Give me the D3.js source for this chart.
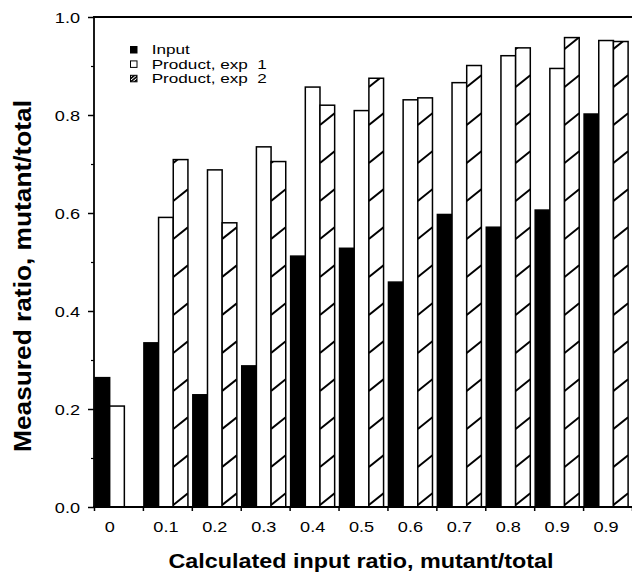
<!DOCTYPE html>
<html>
<head>
<meta charset="utf-8">
<script src="https://cdn.jsdelivr.net/npm/d3@7"></script>
<style>
  html, body { margin: 0; padding: 0; background: #fff; }
  svg { display: block; }
  text { font-family: "Liberation Sans", Arial, Helvetica, sans-serif; fill: #000; white-space: pre; }
</style>
</head>
<body>
<svg id="chart" width="632" height="574"></svg>
<script>
// ---- data ----
const categories = ["0", "0.1", "0.2", "0.3", "0.4", "0.5", "0.6", "0.7", "0.8", "0.9", "0.9"];
const inputValues = [0.264, 0.335, 0.229, 0.288, 0.512, 0.528, 0.459, 0.597, 0.571, 0.606, 0.802];
const exp1Values  = [0.206, 0.591, 0.688, 0.735, 0.857, 0.809, 0.831, 0.866, 0.921, 0.895, 0.952];
const exp2Values  = [null,  0.709, 0.580, 0.705, 0.820, 0.875, 0.835, 0.901, 0.937, 0.958, 0.950];
const seriesNames = ["Input", "Product, exp  1", "Product, exp  2"];
const yMajorTicks = [0, 0.2, 0.4, 0.6, 0.8, 1.0];
const yMinorTicks = [0.1, 0.3, 0.5, 0.7, 0.9];
const xTitle = "Calculated input ratio, mutant/total";
const yTitle = "Measured ratio, mutant/total";

// ---- layout ----
const svg = d3.select("#chart");
const pLeft = 94, pRight = 632, pTop = 17, pBottom = 507;
const SX = 1.17; // horizontal text stretch seen in the reference

const idx = d3.range(categories.length);
const x = d3.scaleBand().domain(idx).range([pLeft, pRight]).padding(0);
const xEdge = d3.scaleLinear().domain([0, categories.length]).range([pLeft, pRight]);
const y = d3.scaleLinear().domain([0, 1]).range([pBottom, pTop]);
const bw = x.bandwidth();
const barW = bw * 0.3;
const series = [inputValues, exp1Values, exp2Values];
const xs = d3.scaleBand().domain([0, 1, 2]).range([1, 1 + barW * 3]).padding(0);

const defs = svg.append("defs");
// small dense hatch for legend swatch
const lp = defs.append("pattern").attr("id", "legendHatch")
  .attr("patternUnits", "userSpaceOnUse").attr("width", 2.5).attr("height", 2.5)
  .attr("patternTransform", "rotate(-40)");
lp.append("rect").attr("width", 2.5).attr("height", 2.5).attr("fill", "#fff");
lp.append("rect").attr("width", 2.5).attr("height", 1.6).attr("fill", "#000");

// ---- bars ----
const bars = [];
idx.forEach(i => {
  series.forEach((vals, s) => {
    const v = vals[i];
    if (v == null) return;
    bars.push({ i, s, v });
  });
});

const g = svg.append("g");
bars.forEach((b, k) => {
  const bx = x(b.i) + xs(b.s);
  const by = y(b.v);
  const bh = y(0) - by;
  g.append("rect")
    .attr("x", bx).attr("y", by).attr("width", barW).attr("height", bh)
    .attr("fill", b.s === 0 ? "#000" : "#fff");
  if (b.s === 2) {
    const cid = "clip" + k;
    defs.append("clipPath").attr("id", cid)
      .append("rect").attr("x", bx).attr("y", by).attr("width", barW).attr("height", bh);
    const hg = g.append("g").attr("clip-path", `url(#${cid})`);
    const step = 38, rise = barW * 0.8;
    for (let yl = y(0) - 2; yl > by; yl -= step) {
      hg.append("line")
        .attr("x1", bx).attr("y1", yl)
        .attr("x2", bx + barW).attr("y2", yl - rise)
        .attr("stroke", "#000").attr("stroke-width", 2);
    }
  }
  g.append("rect")
    .attr("x", bx).attr("y", by).attr("width", barW).attr("height", bh)
    .attr("fill", "none").attr("stroke", "#000").attr("stroke-width", 1.5);
});

// ---- axes ----
const yAxis = svg.append("g").attr("transform", `translate(${pLeft},0)`)
  .call(d3.axisLeft(y).tickValues(yMajorTicks).tickSize(6).tickPadding(0)
    .tickFormat(d3.format(".1f")));
yAxis.select(".domain").remove();
yAxis.selectAll("line").attr("stroke-width", 1.5);
yAxis.selectAll("text")
  .attr("font-size", 15.5)
  .attr("x", -14 / SX)
  .attr("dy", "0.36em")
  .attr("transform", `scale(${SX},1)`);

const yMinor = svg.append("g").attr("transform", `translate(${pLeft},0)`)
  .call(d3.axisLeft(y).tickValues(yMinorTicks).tickSize(3).tickFormat(""));
yMinor.select(".domain").remove();
yMinor.selectAll("line").attr("stroke-width", 1.2);

const xTicks = svg.append("g").attr("transform", `translate(0,${pBottom})`)
  .call(d3.axisBottom(xEdge).tickValues(d3.range(0, categories.length + 1)).tickSize(4).tickFormat(""));
xTicks.select(".domain").remove();
xTicks.selectAll("line").attr("stroke-width", 1.5);

// frame lines
svg.append("line").attr("x1", pLeft).attr("x2", pLeft).attr("y1", pTop).attr("y2", pBottom)
  .attr("stroke", "#000").attr("stroke-width", 1.8);
svg.append("line").attr("x1", pLeft - 1).attr("x2", pRight).attr("y1", pBottom).attr("y2", pBottom)
  .attr("stroke", "#000").attr("stroke-width", 1.8);
svg.append("line").attr("x1", pLeft - 1).attr("x2", pRight).attr("y1", pTop).attr("y2", pTop)
  .attr("stroke", "#000").attr("stroke-width", 1.8);

// x category labels, centred on the drawn bars
idx.forEach(i => {
  const n = series.filter(v => v[i] != null).length;
  const cx = x(i) + xs(0) + n * barW / 2;
  svg.append("text")
    .attr("transform", `translate(${cx},531.5) scale(${SX},1)`)
    .attr("text-anchor", "middle").attr("font-size", 15.5)
    .text(categories[i]);
});

// titles
svg.append("text")
  .attr("transform", `translate(361,568)`)
  .attr("text-anchor", "middle").attr("font-size", 20).attr("font-weight", "bold")
  .attr("textLength", 385).attr("lengthAdjust", "spacingAndGlyphs")
  .text(xTitle);
svg.append("text")
  .attr("transform", `translate(31,276) rotate(-90)`)
  .attr("text-anchor", "middle").attr("font-size", 24).attr("font-weight", "bold")
  .attr("textLength", 352).attr("lengthAdjust", "spacingAndGlyphs")
  .text(yTitle);

// legend
const legend = svg.append("g").attr("transform", "translate(130,46)");
const fills = ["#000", "#fff", "url(#legendHatch)"];
seriesNames.forEach((name, s) => {
  const row = legend.append("g").attr("transform", `translate(0,${s * 14.4})`);
  row.append("rect").attr("x", 0.5).attr("y", 0.5).attr("width", 6.5).attr("height", 6.5)
    .attr("fill", fills[s]).attr("stroke", "#000").attr("stroke-width", 1);
  row.append("text")
    .attr("transform", `translate(21.7,8.2) scale(1.26,1)`)
    .attr("font-size", 13.6)
    .text(name);
});
</script>
</body>
</html>
